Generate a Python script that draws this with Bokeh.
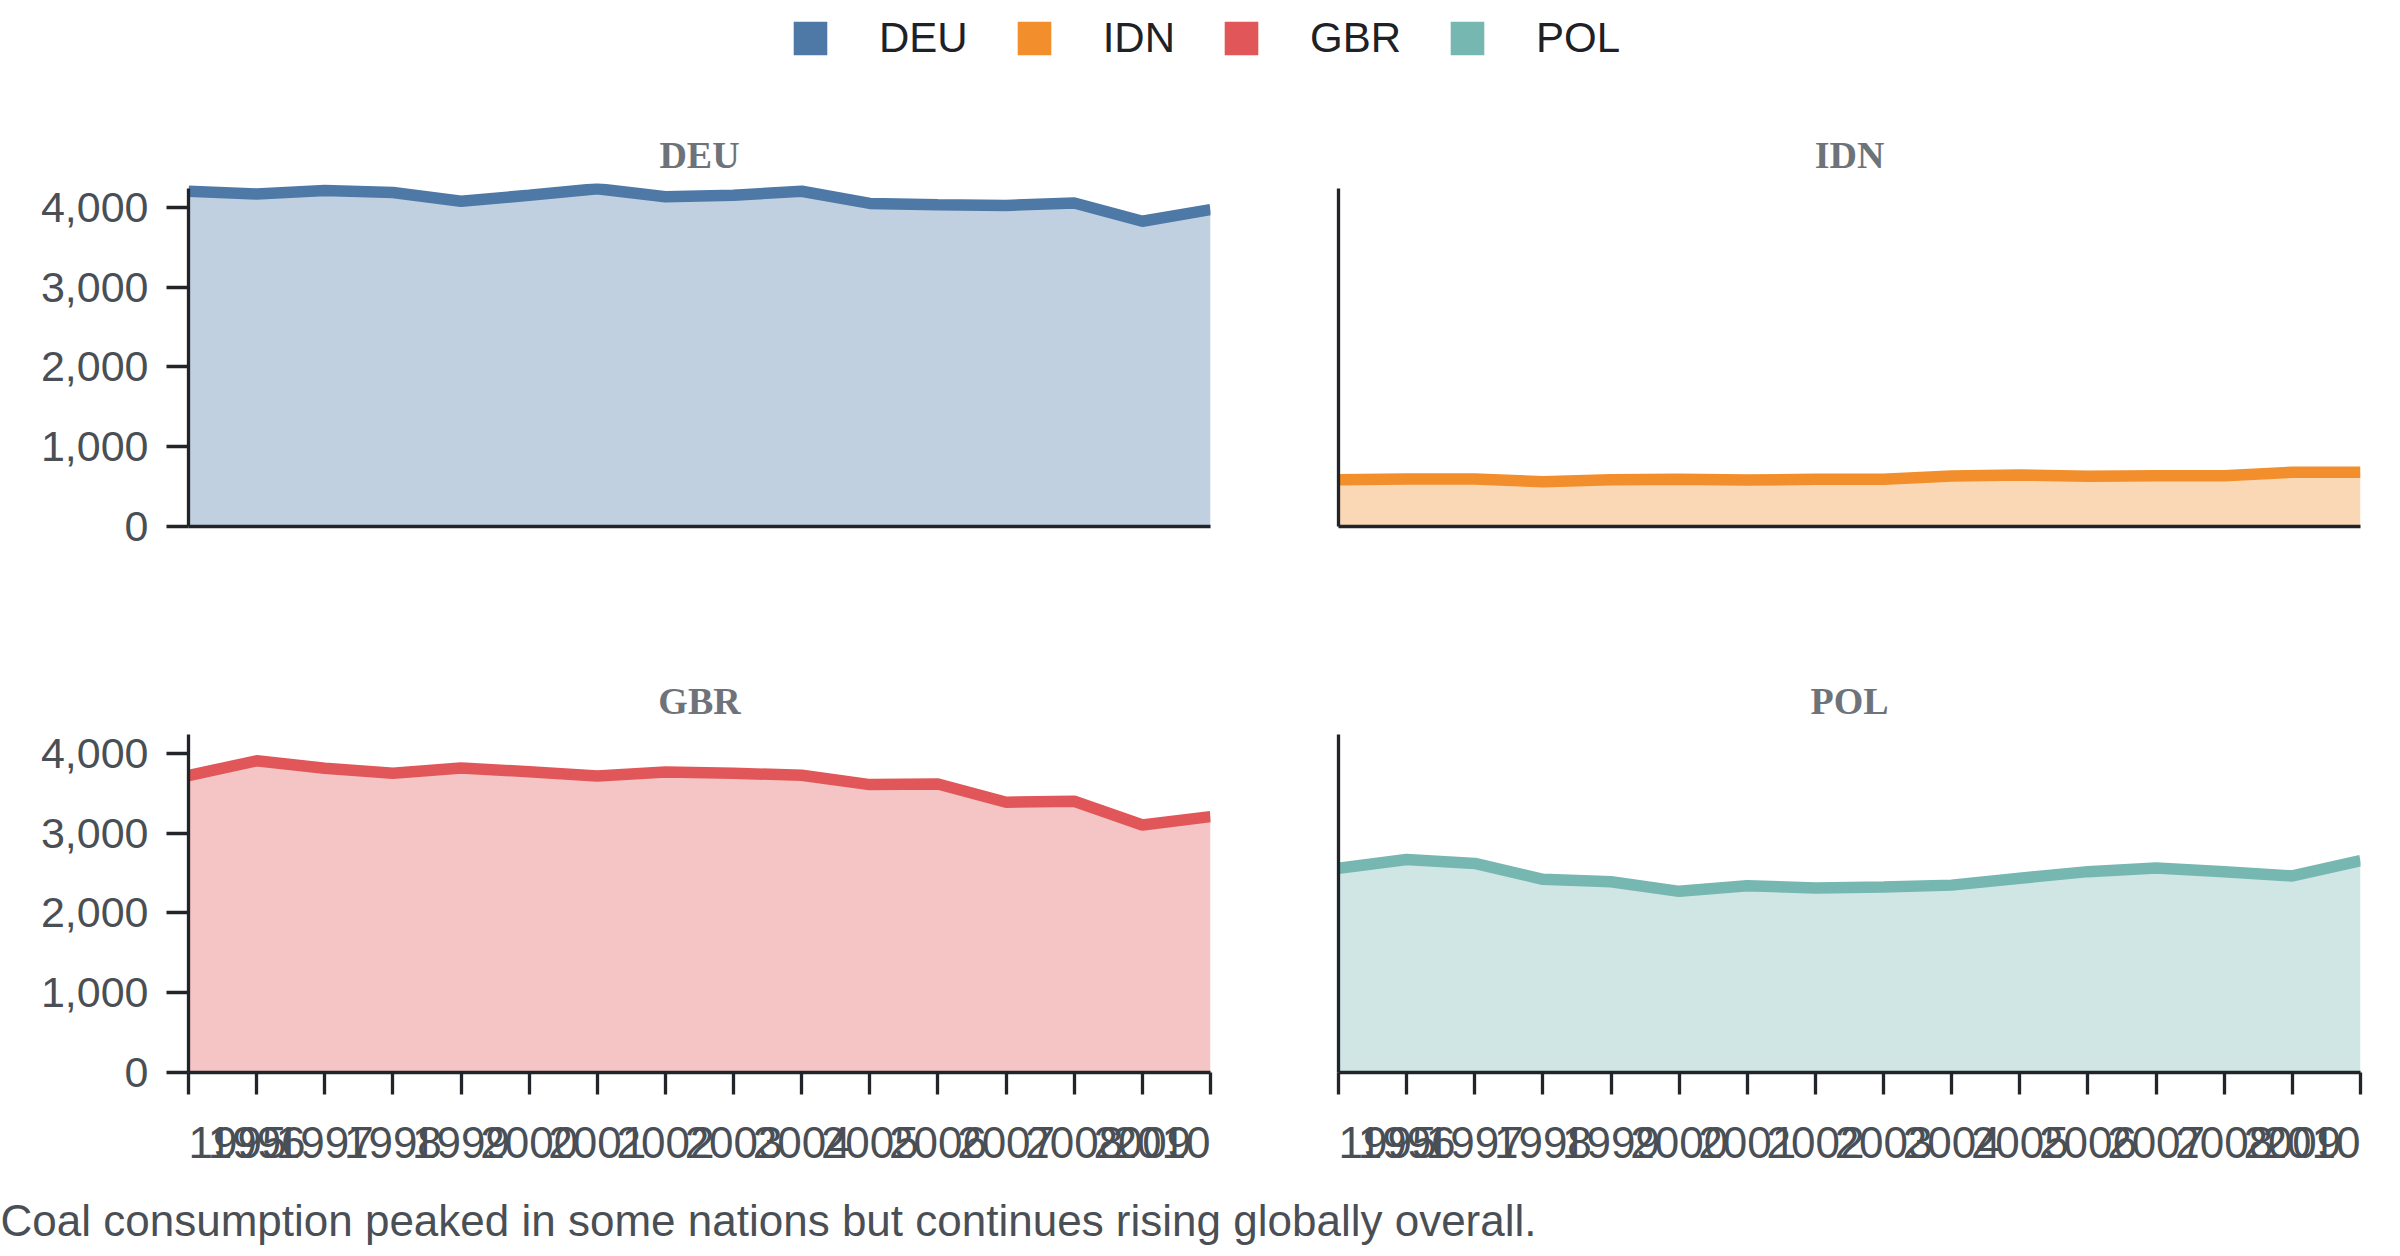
from bokeh.plotting import figure
from bokeh.layouts import column, row
from bokeh.models import (Range1d, FixedTicker, NumeralTickFormatter, Legend, LegendItem,
                          ColumnDataSource, LinearAxis)
from bokeh.core.properties import value
from bokeh.embed import file_html
from bokeh.resources import INLINE

# ---------------- data ----------------
years = list(range(1995, 2011))
year_labels = [str(y) for y in years]
countries = ["DEU", "IDN", "GBR", "POL"]
colors = ["#4e79a7", "#f28e2b", "#e15759", "#76b7b2"]
deu = [4204, 4169, 4211, 4188, 4077, 4153, 4234, 4134, 4153, 4203, 4050, 4035, 4025, 4056, 3827, 3973]
idn = [587, 596, 596, 562, 585, 591, 583, 591, 591, 633, 646, 629, 637, 637, 681, 681]
gbr = [3722, 3908, 3814, 3752, 3818, 3770, 3718, 3768, 3752, 3726, 3609, 3617, 3388, 3400, 3103, 3208]
pol = [2560, 2671, 2621, 2422, 2391, 2271, 2342, 2313, 2326, 2349, 2435, 2518, 2564, 2518, 2464, 2656]
y_ticks = [0, 1000, 2000, 3000, 4000]
y_max = 4238
caption = "Coal consumption peaked in some nations but continues rising globally overall."

series = {"DEU": deu, "IDN": idn, "GBR": gbr, "POL": pol}

SANS = "Liberation Sans"
SERIF = "Liberation Serif"
AXIS_C = "#212429"
TICK_C = "#4a4f56"
TITLE_C = "#6e7379"
LEG_C = "#1e2126"
CAP_C = "#4a4f56"


def borders(first_col):
    return (188, 8) if first_col else (120, 32)


def facet(name, vals, color, first_col, last_row):
    bl_, br_ = borders(first_col)
    p = figure(frame_width=1022, frame_height=343,
               x_range=Range1d(1995, 2010), y_range=Range1d(0, 4300),
               x_axis_type=None, y_axis_type=None,
               output_backend="svg", toolbar_location=None,
               min_border_left=bl_, min_border_right=br_,
               min_border_top=106,
               min_border_bottom=30 if last_row else 97)
    p.outline_line_color = None
    p.background_fill_color = "white"
    p.border_fill_color = "white"

    p.title.text = name
    p.title.align = "center"
    p.title.text_font = SERIF
    p.title.text_font_style = "bold"
    p.title.text_font_size = "38px"
    p.title.text_color = TITLE_C
    p.title.standoff = 15

    src = ColumnDataSource(dict(year=years, value=vals))
    p.varea(x="year", y1=0, y2="value", source=src, fill_color=color, fill_alpha=0.35)
    p.line(x="year", y="value", source=src, line_color=color, line_width=11.5)

    yaxis = LinearAxis(ticker=FixedTicker(ticks=y_ticks if first_col else []),
                       formatter=NumeralTickFormatter(format="0,0"),
                       bounds=(0, y_max),
                       axis_line_color=AXIS_C, axis_line_width=3.3,
                       major_tick_line_color=AXIS_C, major_tick_line_width=3.3,
                       major_tick_out=22, major_tick_in=0,
                       minor_tick_out=0, minor_tick_in=0,
                       major_label_standoff=18,
                       major_label_text_font=SANS,
                       major_label_text_font_size="43px",
                       major_label_text_color=TICK_C)
    p.add_layout(yaxis, "left")

    xaxis = LinearAxis(ticker=FixedTicker(ticks=years if last_row else []),
                       major_label_overrides={y: "" for y in years},
                       axis_line_color=AXIS_C, axis_line_width=3.3,
                       major_tick_line_color=AXIS_C, major_tick_line_width=3.3,
                       major_tick_out=22, major_tick_in=0,
                       minor_tick_out=0, minor_tick_in=0,
                       major_label_standoff=0,
                       major_label_text_font_size="0px")
    p.add_layout(xaxis, "below")
    return p


def tick_strip(first_col):
    """Year labels under a bottom facet, on the same x scale (first flush left, last flush right)."""
    bl_, br_ = borders(first_col)
    s = figure(frame_width=1022, frame_height=70, title=None,
               x_range=Range1d(1995, 2010), y_range=Range1d(0, 70),
               x_axis_type=None, y_axis_type=None,
               output_backend="svg", toolbar_location=None,
               min_border_left=bl_, min_border_right=br_, min_border_top=0, min_border_bottom=0)
    s.outline_line_color = None
    n = len(years)
    groups = [(slice(0, 1), "left"), (slice(1, n - 1), "center"), (slice(n - 1, n), "right")]
    for sl, align in groups:
        ls = ColumnDataSource(dict(year=years[sl], base=[30] * len(years[sl]), text=year_labels[sl]))
        s.text(x="year", y="base", text="text", source=ls,
               text_align=align, text_baseline="middle",
               text_font=value(SANS), text_font_size="44px", text_color=TICK_C)
    return s


tl = facet("DEU", series["DEU"], colors[0], True, False)
tr = facet("IDN", series["IDN"], colors[1], False, False)
bl = facet("GBR", series["GBR"], colors[2], True, True)
br = facet("POL", series["POL"], colors[3], False, True)
sl_ = tick_strip(True)
sr_ = tick_strip(False)

# ---------------- legend ----------------
lp = figure(width=2392, height=77, title=None, x_range=Range1d(0, 1), y_range=Range1d(0, 1),
            x_axis_type=None, y_axis_type=None, output_backend="svg",
            toolbar_location=None, min_border=0)
lp.outline_line_color = None
items = []
for name, c in zip(countries, colors):
    r = lp.quad(left=[5], right=[6], top=[6], bottom=[5], fill_color=c, line_color=None)
    items.append(LegendItem(label=name, renderers=[r]))
leg = Legend(items=items, orientation="horizontal", location=(789, 15),
             glyph_width=42, glyph_height=42, label_standoff=48, spacing=45,
             padding=0, margin=0, border_line_color=None, background_fill_alpha=0,
             label_text_font=SANS, label_text_font_size="42px", label_text_color=LEG_C)
lp.add_layout(leg, "center")

# ---------------- caption ----------------
cp = figure(width=2392, height=76, title=None, x_range=Range1d(0, 2392), y_range=Range1d(0, 76),
            x_axis_type=None, y_axis_type=None, output_backend="svg",
            toolbar_location=None, min_border=0)
cp.outline_line_color = None
cap_src = ColumnDataSource(dict(x=[0], y=[28], text=[caption]))
cp.text(x="x", y="y", text="text", source=cap_src, text_align="left", text_baseline="middle",
        text_font=value(SANS), text_font_size="44px", text_color=CAP_C)

layout = column(lp, row(tl, tr), row(bl, br), row(sl_, sr_), cp)
open("out.html", "w").write(file_html(layout, INLINE))
